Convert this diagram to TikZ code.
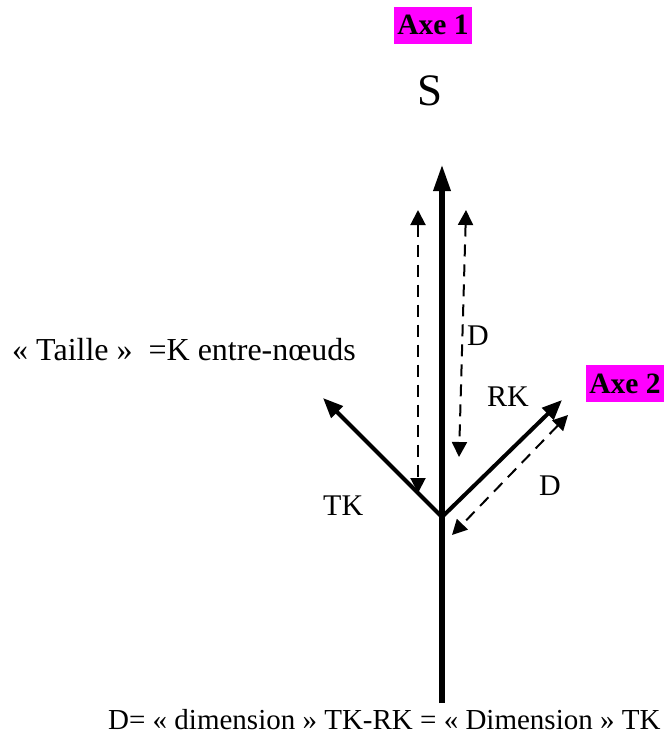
\documentclass[tikz,border=0pt]{standalone}
\usepackage{fontspec}
\setmainfont{Liberation Serif}
\usetikzlibrary{arrows.meta}
\definecolor{axemag}{HTML}{FF00FF}
\tikzset{
  lbl/.style={font=\fontsize{30}{34}\selectfont, inner sep=0pt},
  axebox/.style={font=\fontsize{29.5}{34}\selectfont\bfseries, fill=axemag, inner sep=0pt, minimum height=37pt},
  stem/.style={line width=6pt, -{Triangle[length=27pt,width=16pt]}},
  branch/.style={line width=4pt, -{Triangle[length=20pt,width=16pt]}},
  dimline/.style={line width=2pt, dash pattern=on 12pt off 8pt, {Triangle[length=15pt,width=15pt]}-{Triangle[length=15pt,width=15pt]}}
}
\begin{document}
\begin{tikzpicture}[x=1pt,y=-1pt]
\useasboundingbox (0,0) rectangle (664,734);
% coordinates
\coordinate (base) at (442,703);
\coordinate (top) at (442,164);
\coordinate (junc) at (442,517);
\coordinate (ltip) at (323,398);
\coordinate (rtip) at (562,400);
\coordinate (d1a) at (418,210);
\coordinate (d1b) at (418,493);
\coordinate (d2a) at (466,210);
\coordinate (d2b) at (459,457);
\coordinate (d3a) at (568,415);
\coordinate (d3b) at (452,535);
% stem and branches
\draw[stem] (base) -- (top);
\draw[branch] (junc) -- (ltip);
\draw[branch] (junc) -- (rtip);
% dimension arrows
\draw[dimline] (d1a) -- (d1b);
\draw[dimline] (d2a) -- (d2b);
\draw[dimline] (d3a) -- (d3b);
% labels
\node[axebox, minimum width=78pt] (axe1) at (433,25) {Axe 1};
\node[axebox, minimum width=78pt] (axe2) at (625,383.5) {Axe 2};
\node[font=\fontsize{45}{50}\selectfont, inner sep=0pt, anchor=base] (s) at (430,105) {S};
\node[lbl, font=\fontsize{32}{36}\selectfont, anchor=base west] (taille) at (12,360) {«~Taille~»\ \ =K entre-nœuds};
\node[lbl, anchor=base west] (dv) at (467,345) {D};
\node[lbl, anchor=base west] (rk) at (487,406) {RK};
\node[lbl, anchor=base west] (dr) at (539,495) {D};
\node[lbl, anchor=base west] (tk) at (323,515) {TK};
\node[lbl, font=\fontsize{29}{34}\selectfont, anchor=base west] (bottom) at (108,729) {D= «~dimension~» TK-RK = «~Dimension~» TK};
\end{tikzpicture}
\end{document}
